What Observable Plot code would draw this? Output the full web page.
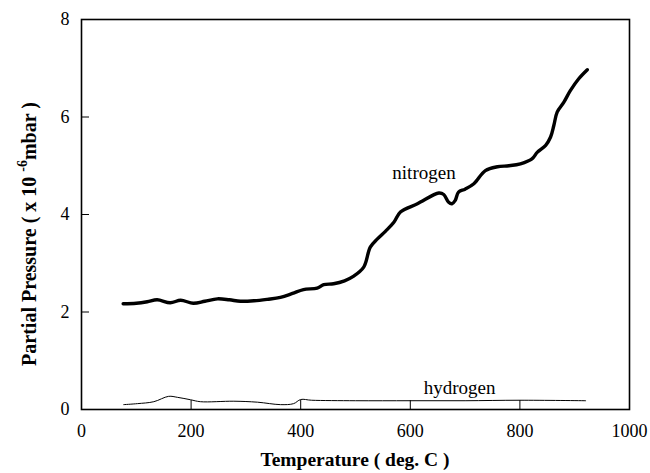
<!DOCTYPE html>
<html>
<head>
<meta charset="utf-8">
<script src="https://cdn.jsdelivr.net/npm/d3@7"></script>
<script src="https://cdn.jsdelivr.net/npm/@observablehq/plot@0.6"></script>
<style>
  html, body { margin: 0; padding: 0; background: #fff; }
  svg { display: block; }
</style>
</head>
<body>
<div id="chart"></div>
<script>
// Nitrogen partial pressure (x 1e-6 mbar) vs temperature (deg C)
const nitrogenT = [76, 100, 120, 138, 162, 181, 204, 225, 248, 270, 290, 315, 339, 363, 385, 405, 430, 442, 460, 480, 496, 515, 527, 540, 555, 570, 582, 613, 652, 661, 670, 676, 682, 688, 700, 716, 737, 759, 780, 801, 822, 832, 847, 856, 862, 868, 880, 892, 907, 923];
const nitrogenP = [2.17, 2.18, 2.21, 2.25, 2.19, 2.24, 2.18, 2.22, 2.27, 2.25, 2.22, 2.23, 2.26, 2.30, 2.38, 2.46, 2.49, 2.56, 2.58, 2.64, 2.73, 2.92, 3.33, 3.50, 3.66, 3.84, 4.05, 4.22, 4.44, 4.41, 4.25, 4.22, 4.29, 4.46, 4.52, 4.63, 4.90, 4.98, 5.00, 5.04, 5.14, 5.28, 5.42, 5.59, 5.83, 6.10, 6.30, 6.54, 6.78, 6.97];
// Hydrogen
const hydrogenT = [77, 102, 132, 159, 175, 199, 217, 278, 321, 363, 387, 400, 420, 500, 600, 700, 800, 920];
const hydrogenP = [0.10, 0.12, 0.16, 0.27, 0.25, 0.20, 0.16, 0.17, 0.15, 0.10, 0.12, 0.205, 0.19, 0.18, 0.18, 0.18, 0.19, 0.18];

const xTicks = [0, 200, 400, 600, 800, 1000];
const yTicks = [0, 2, 4, 6, 8];
const seriesLabels = [
  {name: "nitrogen", T: 625, P: 4.85},
  {name: "hydrogen", T: 690, P: 0.45}
];

const nitrogen = nitrogenT.map((t, i) => ({T: t, P: nitrogenP[i]}));
const hydrogen = hydrogenT.map((t, i) => ({T: t, P: hydrogenP[i]}));

const serif = "'Liberation Serif', 'Times New Roman', serif";

const plot = Plot.plot({
  width: 650,
  height: 473,
  marginLeft: 81,
  marginRight: 21,
  marginTop: 19,
  marginBottom: 64,
  style: {fontFamily: serif, background: "#fff", color: "#000"},
  x: {domain: [0, 1000]},
  y: {domain: [0, 8]},
  marks: [
    Plot.frame({stroke: "#000", strokeWidth: 1.6}),
    Plot.ruleX(xTicks.slice(1, -1), {insetTop: 381, stroke: "#000", strokeWidth: 1}),
    Plot.ruleY(yTicks.slice(1, -1), {insetRight: 540, stroke: "#000", strokeWidth: 1}),
    Plot.axisX(xTicks, {tickSize: 0, tickPadding: 15, fontSize: 18, tickFormat: d => String(d), label: null}),
    Plot.axisY(yTicks, {tickSize: 0, tickPadding: 12, fontSize: 18, tickFormat: d => String(d), label: null}),
    Plot.line(hydrogen, {x: "T", y: "P", stroke: "#000", strokeWidth: 1, curve: "catmull-rom"}),
    Plot.line(nitrogen, {x: "T", y: "P", stroke: "#000", strokeWidth: 3.4, curve: "catmull-rom"}),
    Plot.text(seriesLabels, {x: "T", y: "P", text: "name", fontSize: 19, fill: "#000", textAnchor: "middle"})
  ]
});

document.getElementById("chart").appendChild(plot);

const svg = d3.select(plot);
// X axis title
svg.append("text")
  .attr("x", 355).attr("y", 466)
  .attr("text-anchor", "middle")
  .attr("font-family", serif).attr("font-weight", "bold").attr("font-size", 19.5)
  .attr("fill", "#000")
  .text("Temperature ( deg. C )");
// Y axis title with superscript
const yt = svg.append("text")
  .attr("transform", "translate(36,234) rotate(-90)")
  .attr("text-anchor", "middle")
  .attr("font-family", serif).attr("font-weight", "bold").attr("font-size", 20)
  .attr("fill", "#000");
yt.append("tspan").text("Partial Pressure ( x 10 ");
yt.append("tspan").attr("font-size", 14).attr("dy", -9).text("-6");
yt.append("tspan").attr("dy", 9).text("mbar )");
</script>
</body>
</html>
